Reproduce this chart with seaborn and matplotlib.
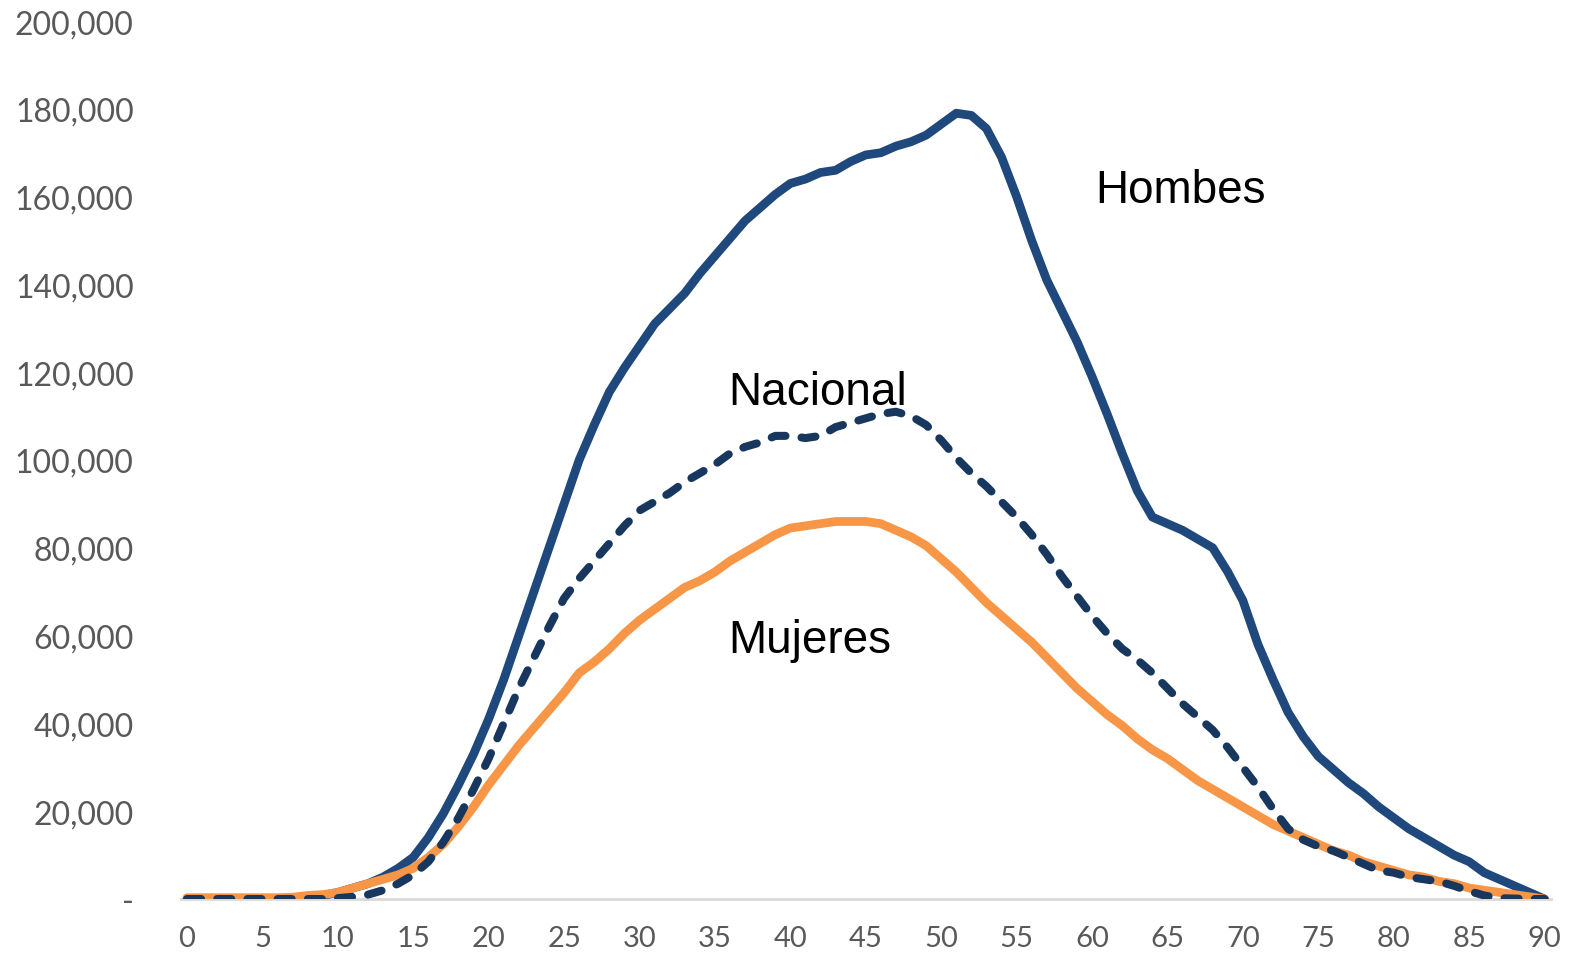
import numpy as np
import pandas as pd
import seaborn as sns
import matplotlib.pyplot as plt
from matplotlib.ticker import FuncFormatter

OUTPUT_IMAGE = 'out.png'

edad = list(range(0, 91))

hombres = [
    0, 0, 0, 0, 0, 0, 0, 0, 500, 800,
    1500, 2500, 3500, 5000, 7000, 9500, 14000, 19500, 26000, 33000,
    41000, 50000, 60000, 70000, 80000, 90000, 100000, 108000, 115500, 121000,
    126000, 131000, 134500, 138000, 142500, 146500, 150500, 154500, 157500, 160500,
    163000, 164000, 165500, 166000, 168000, 169500, 170000, 171500, 172500, 174000,
    176500, 179000, 178500, 175500, 169000, 160000, 150000, 141000, 134000, 127000,
    119000, 110500, 101500, 93000, 87000, 85500, 84000, 82000, 80000, 74500,
    68000, 58000, 50000, 42500, 37000, 32500, 29500, 26500, 24000, 21000,
    18500, 16000, 14000, 12000, 10000, 8500, 6000, 4500, 3000, 1500,
    0,
]

nacional = [
    0, 0, 0, 0, 0, 0, 0, 0, 0, 0,
    200, 500, 1000, 2000, 3500, 5500, 8500, 13000, 18500, 25000,
    32000, 40000, 48000, 55000, 62000, 68500, 73000, 77000, 81000, 85000,
    88500, 90500, 92500, 95000, 97000, 99000, 101500, 103000, 104000, 105500,
    105500, 105000, 105500, 107500, 108500, 109500, 110500, 111000, 110000, 108000,
    104500, 100500, 97000, 94000, 90500, 87000, 83000, 78500, 73500, 69000,
    64500, 60500, 57000, 54500, 51500, 48000, 44500, 41500, 38500, 34500,
    30000, 25500, 20500, 16000, 13500, 12000, 11000, 9500, 8000, 6500,
    6000, 5000, 4500, 4000, 3000, 1800, 800, 200, 100, 0,
    0,
]

mujeres = [
    300, 300, 300, 300, 300, 300, 300, 400, 800, 1000,
    1500, 2500, 3500, 4500, 5500, 7000, 9500, 12500, 16500, 21000,
    26000, 30500, 35000, 39000, 43000, 47000, 51500, 54000, 57000, 60500,
    63500, 66000, 68500, 71000, 72500, 74500, 77000, 79000, 81000, 83000,
    84500, 85000, 85500, 86000, 86000, 86000, 85500, 84000, 82500, 80500,
    77500, 74500, 71000, 67500, 64500, 61500, 58500, 55000, 51500, 48000,
    45000, 42000, 39500, 36500, 34000, 32000, 29500, 27000, 25000, 23000,
    21000, 19000, 17000, 15500, 14000, 12500, 11000, 10000, 8500, 7500,
    6500, 5500, 5000, 4000, 3500, 2500, 2000, 1500, 1000, 500,
    0,
]

x_ticks = list(range(0, 91, 5))
y_ticks = list(range(0, 200001, 20000))


def y_fmt(v, pos):
    if v == 0:
        return '-'
    return f'{int(v):,}'


df = pd.DataFrame({'edad': edad, 'Hombres': hombres,
                   'Nacional': nacional, 'Mujeres': mujeres})

sns.set_style('white')
plt.rcParams['font.family'] = ['Lato', 'DejaVu Sans']

fig = plt.figure(figsize=(15.79, 9.54), dpi=100)
ax = fig.add_axes([0.1146, 0.0566, 0.8674, 0.9203])

sns.lineplot(data=df, x='edad', y='Hombres', ax=ax, color='#1F497D',
             linewidth=6.3, solid_capstyle='round', solid_joinstyle='round')
sns.lineplot(data=df, x='edad', y='Mujeres', ax=ax, color='#F79646',
             linewidth=6.3, solid_capstyle='round', solid_joinstyle='round')
sns.lineplot(data=df, x='edad', y='Nacional', ax=ax, color='#17375E',
             linewidth=5.8, linestyle=(0, (1.75, 2.0)),
             dash_capstyle='round', dash_joinstyle='round')

ax.set_xlim(-0.4, 90.4)
ax.set_ylim(0, 200000)
ax.set_xticks(x_ticks)
ax.set_yticks(y_ticks)
ax.yaxis.set_major_formatter(FuncFormatter(y_fmt))
ax.tick_params(axis='both', length=0, colors='#595959')
ax.tick_params(axis='y', pad=34, labelsize=23)
ax.tick_params(axis='x', pad=19, labelsize=21)
ax.set_xlabel('')
ax.set_ylabel('')

for side in ['left', 'right', 'top']:
    ax.spines[side].set_visible(False)
ax.spines['bottom'].set_color('#D9D9D9')
ax.spines['bottom'].set_linewidth(2)
ax.spines['bottom'].set_zorder(0)

lbl = dict(fontsize=33, family=['Liberation Sans', 'DejaVu Sans'],
           color='black', va='center', ha='left')
ax.text(60.2, 161500, 'Hombes', **lbl)
ax.text(35.9, 115500, 'Nacional', **lbl)
ax.text(35.9, 59000, 'Mujeres', **lbl)

fig.savefig(OUTPUT_IMAGE, dpi=100)
